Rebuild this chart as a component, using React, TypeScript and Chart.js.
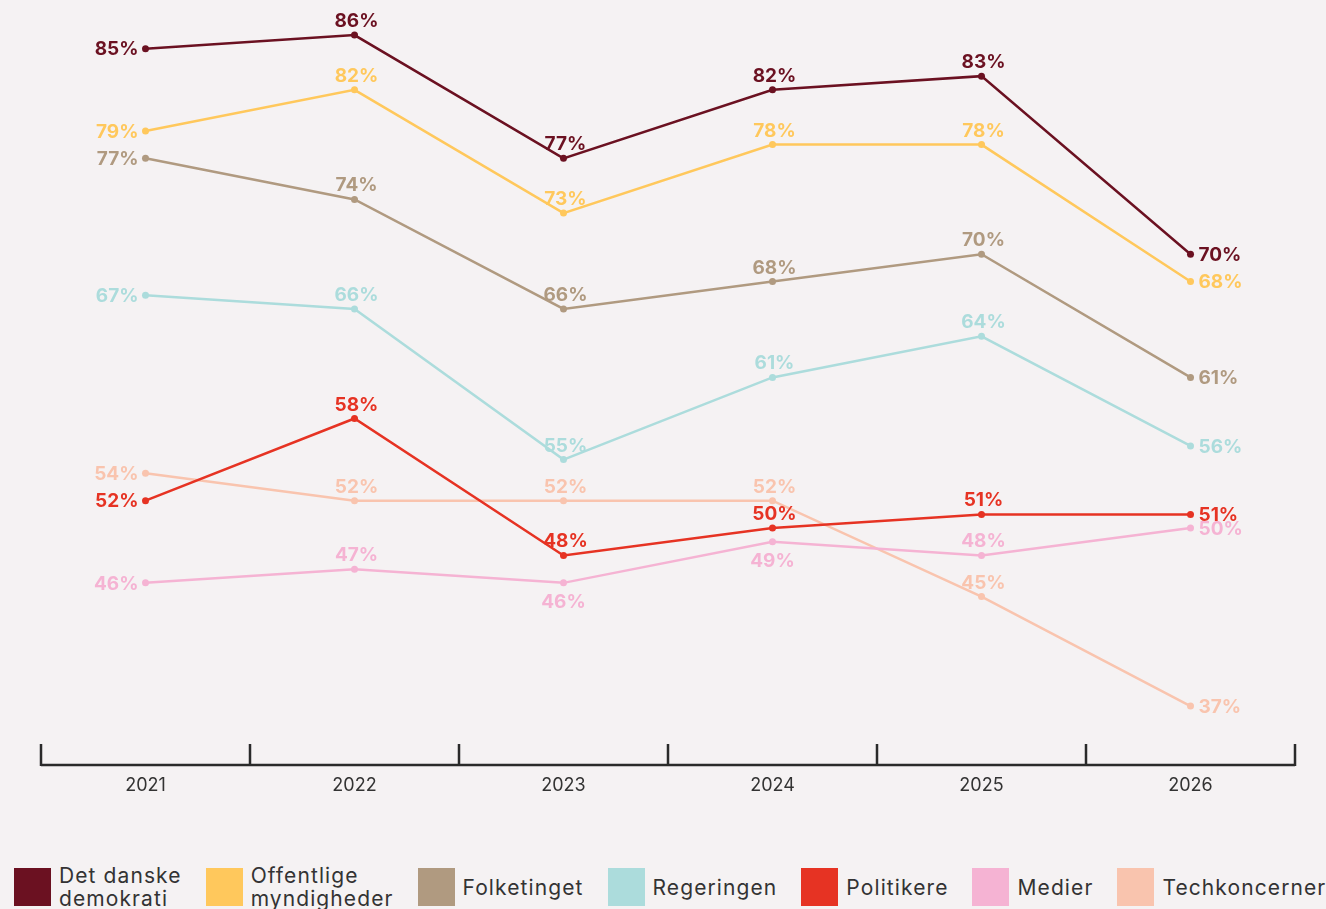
import React, { useEffect, useRef } from "react";
import { Chart, registerables } from "chart.js";

Chart.register(...registerables);

const years = ["2021", "2022", "2023", "2024", "2025", "2026"];

const seriesNames = [
  "Det danske demokrati",
  "Offentlige myndigheder",
  "Folketinget",
  "Regeringen",
  "Politikere",
  "Medier",
  "Techkoncerner",
];

const legendLines = [
  ["Det danske", "demokrati"],
  ["Offentlige", "myndigheder"],
  ["Folketinget"],
  ["Regeringen"],
  ["Politikere"],
  ["Medier"],
  ["Techkoncerner"],
];

const demokrati = [85, 86, 77, 82, 83, 70];
const myndigheder = [79, 82, 73, 78, 78, 68];
const folketinget = [77, 74, 66, 68, 70, 61];
const regeringen = [67, 66, 55, 61, 64, 56];
const politikere = [52, 58, 48, 50, 51, 51];
const medier = [46, 47, 46, 49, 48, 50];
const techkoncerner = [54, 52, 52, 52, 45, 37];

const seriesValues = [demokrati, myndigheder, folketinget, regeringen, politikere, medier, techkoncerner];

const colors = ["#6b1121", "#ffc85c", "#b09a80", "#acdcdc", "#e63323", "#f5b3d3", "#f9c4ae"];

const stdPlacement = ["left", "above", "above", "above", "above", "right"];
const labelPlacement = [
  stdPlacement,
  stdPlacement,
  stdPlacement,
  stdPlacement,
  stdPlacement,
  ["left", "above", "below", "below", "above", "right"],
  stdPlacement,
];

const FONT = "Inter, 'Noto Sans', sans-serif";
const BG = "#f5f2f3";

const axisPlugin = {
  id: "customAxis",
  afterDraw(chart: any) {
    const { ctx, chartArea } = chart;
    const { left, right, bottom } = chartArea;
    ctx.save();
    ctx.strokeStyle = "#2a2a2a";
    ctx.lineWidth = 2.5;
    ctx.beginPath();
    ctx.moveTo(left, bottom);
    ctx.lineTo(right, bottom);
    const n = years.length;
    for (let i = 0; i <= n; i++) {
      const x = left + (i * (right - left)) / n;
      ctx.moveTo(x, bottom + 1);
      ctx.lineTo(x, bottom - 21);
    }
    ctx.stroke();
    ctx.restore();
  },
};

const labelPlugin = {
  id: "pointLabels",
  afterDatasetsDraw(chart: any) {
    const { ctx } = chart;
    ctx.save();
    ctx.font = `700 19px ${FONT}`;
    chart.data.datasets.forEach((ds: any, di: number) => {
      const meta = chart.getDatasetMeta(di);
      meta.data.forEach((pt: any, i: number) => {
        const txt = `${ds.data[i]}%`;
        const pos = labelPlacement[di][i];
        ctx.fillStyle = colors[di];
        if (pos === "left") {
          ctx.textAlign = "right";
          ctx.textBaseline = "middle";
          ctx.fillText(txt, pt.x - 7, pt.y + 1);
        } else if (pos === "right") {
          ctx.textAlign = "left";
          ctx.textBaseline = "middle";
          ctx.fillText(txt, pt.x + 8, pt.y + 1);
        } else if (pos === "above") {
          ctx.textAlign = "center";
          ctx.textBaseline = "alphabetic";
          ctx.fillText(txt, pt.x + 2, pt.y - 8);
        } else {
          ctx.textAlign = "center";
          ctx.textBaseline = "top";
          ctx.fillText(txt, pt.x, pt.y + 10);
        }
      });
    });
    ctx.restore();
  },
};

export default function App() {
  const ref = useRef<HTMLCanvasElement>(null);

  useEffect(() => {
    if (!ref.current) return;
    const chart = new Chart(ref.current, {
      type: "line",
      data: {
        labels: years,
        datasets: seriesNames.map((name, i) => ({
          label: name,
          data: seriesValues[i],
          borderColor: colors[i],
          backgroundColor: colors[i],
          borderWidth: 2.5,
          pointRadius: 3.5,
          pointHoverRadius: 3.5,
          pointBackgroundColor: colors[i],
          pointBorderWidth: 0,
          tension: 0,
        })),
      },
      options: {
        animation: false,
        responsive: false,
        devicePixelRatio: 1,
        layout: { padding: { left: 41, right: 31, top: 20, bottom: 0 } },
        plugins: {
          legend: { display: false },
          tooltip: { enabled: false },
        },
        scales: {
          x: {
            offset: true,
            grid: { display: false, drawTicks: false },
            border: { display: false },
            ticks: {
              padding: 10,
              color: "#333333",
              font: { family: FONT, size: 18 },
            },
            afterFit: (s: any) => {
              s.height = 40;
            },
          },
          y: {
            display: false,
            min: 32.7,
            max: 87.1,
          },
        },
      },
      plugins: [axisPlugin, labelPlugin],
    });
    return () => chart.destroy();
  }, []);

  return (
    <div
      style={{
        position: "fixed",
        left: 0,
        top: 0,
        width: 1326,
        height: 909,
        background: BG,
        overflow: "hidden",
      }}
    >
      <canvas ref={ref} width={1326} height={805} style={{ position: "absolute", left: 0, top: 0 }} />
      <div
        style={{
          position: "absolute",
          left: 14,
          top: 864,
          height: 46,
          display: "flex",
          alignItems: "center",
          fontFamily: FONT,
          fontSize: 21,
          letterSpacing: "1.1px",
          lineHeight: "23px",
          color: "#333333",
          whiteSpace: "nowrap",
        }}
      >
        {seriesNames.map((name, i) => (
          <div key={name} style={{ display: "flex", alignItems: "center", marginRight: 24 }}>
            <div style={{ width: 37, height: 38, background: colors[i], marginRight: 8, flexShrink: 0 }} />
            <div>
              {legendLines[i].map((l) => (
                <div key={l}>{l}</div>
              ))}
            </div>
          </div>
        ))}
      </div>
    </div>
  );
}
